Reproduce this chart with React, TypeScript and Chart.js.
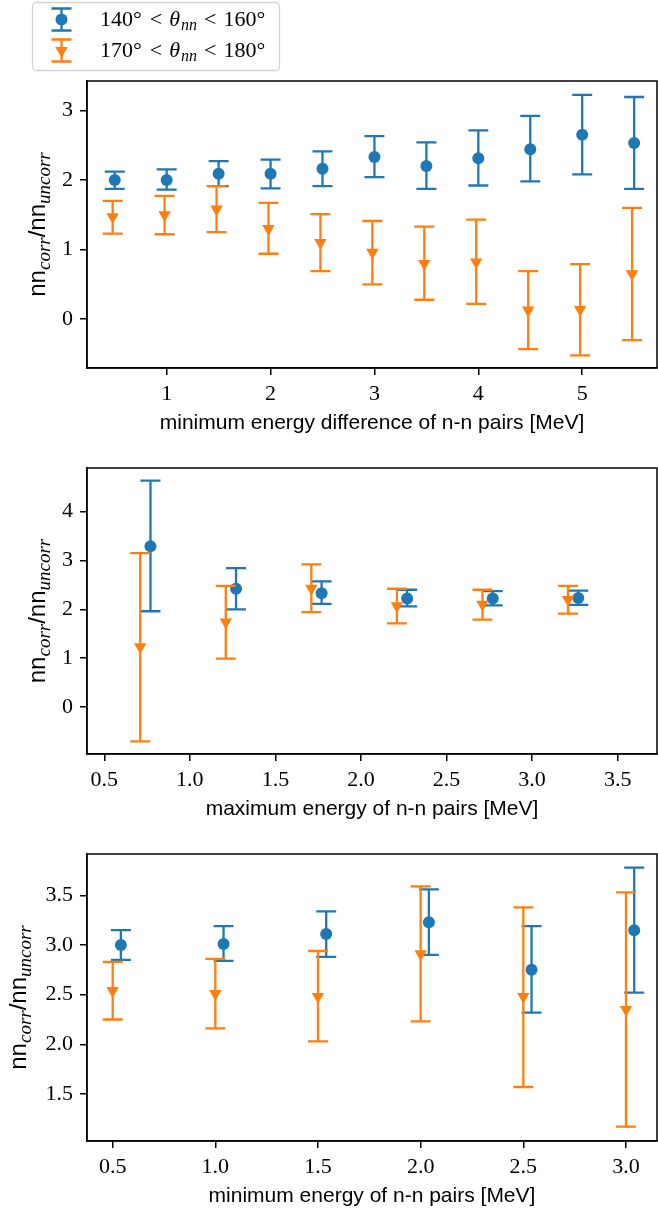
import React, { useEffect, useRef } from "react";
import { Chart, registerables } from "chart.js";

Chart.register(...registerables);

const BLUE = "#1f77b4";
const ORANGE = "#ff7f0e";
const SERIF = '"Liberation Serif", "DejaVu Serif", serif';
const SANS = '"Liberation Sans", "DejaVu Sans", sans-serif';

// ---------- legend ----------
const legendRanges = [
  ["140°", "160°"],
  ["170°", "180°"],
];
const seriesNames = ["140° < θnn < 160°", "170° < θnn < 180°"];

// ---------- y axis title pieces ----------
const yTitleParts = ["nn", "corr", "/nn", "uncorr"];

// ---------- panel 1: minimum energy difference ----------
const p1XTitle = "minimum energy difference of n-n pairs [MeV]";
const p1XRange = [0.233, 5.72];
const p1YRange = [-0.7, 3.42];
const p1XTicks = [1, 2, 3, 4, 5];
const p1YTicks = [0, 1, 2, 3];
const p1BlueX = [0.5, 1, 1.5, 2, 2.5, 3, 3.5, 4, 4.5, 5, 5.5];
const p1BlueY = [2.0, 2.0, 2.09, 2.09, 2.16, 2.33, 2.2, 2.31, 2.44, 2.65, 2.53];
const p1BlueLow = [1.87, 1.86, 1.91, 1.88, 1.91, 2.04, 1.87, 1.92, 1.98, 2.08, 1.87];
const p1BlueHigh = [2.12, 2.15, 2.27, 2.29, 2.41, 2.63, 2.54, 2.71, 2.92, 3.22, 3.19];
const p1OrangeX = [0.48, 0.98, 1.48, 1.98, 2.48, 2.98, 3.48, 3.98, 4.48, 4.98, 5.48];
const p1OrangeY = [1.47, 1.5, 1.58, 1.3, 1.1, 0.96, 0.8, 0.82, 0.13, 0.14, 0.65];
const p1OrangeLow = [1.23, 1.22, 1.25, 0.94, 0.69, 0.5, 0.28, 0.22, -0.43, -0.52, -0.3];
const p1OrangeHigh = [1.7, 1.77, 1.91, 1.67, 1.51, 1.41, 1.33, 1.43, 0.69, 0.79, 1.6];

// ---------- panel 2: maximum energy ----------
const p2XTitle = "maximum energy of n-n pairs [MeV]";
const p2XRange = [0.399, 3.73];
const p2YRange = [-0.96, 4.89];
const p2XTicks = [0.5, 1.0, 1.5, 2.0, 2.5, 3.0, 3.5];
const p2YTicks = [0, 1, 2, 3, 4];
const p2BlueX = [0.77, 1.27, 1.77, 2.27, 2.77, 3.27];
const p2BlueY = [3.29, 2.42, 2.33, 2.22, 2.22, 2.23];
const p2BlueLow = [1.96, 2.0, 2.11, 2.06, 2.08, 2.09];
const p2BlueHigh = [4.63, 2.84, 2.57, 2.4, 2.37, 2.38];
const p2OrangeX = [0.71, 1.21, 1.71, 2.21, 2.71, 3.21];
const p2OrangeY = [1.23, 1.74, 2.43, 2.07, 2.1, 2.2];
const p2OrangeLow = [-0.7, 0.99, 1.94, 1.71, 1.79, 1.91];
const p2OrangeHigh = [3.15, 2.48, 2.92, 2.42, 2.4, 2.48];

// ---------- panel 3: minimum energy ----------
const p3XTitle = "minimum energy of n-n pairs [MeV]";
const p3XRange = [0.375, 3.151];
const p3YRange = [1.026, 3.917];
const p3XTicks = [0.5, 1.0, 1.5, 2.0, 2.5, 3.0];
const p3YTicks = [1.5, 2.0, 2.5, 3.0, 3.5];
const p3BlueX = [0.54, 1.04, 1.54, 2.04, 2.54, 3.04];
const p3BlueY = [3.0, 3.01, 3.11, 3.23, 2.75, 3.15];
const p3BlueLow = [2.85, 2.84, 2.88, 2.9, 2.32, 2.52];
const p3BlueHigh = [3.15, 3.19, 3.34, 3.56, 3.19, 3.78];
const p3OrangeX = [0.5, 1.0, 1.5, 2.0, 2.5, 3.0];
const p3OrangeY = [2.54, 2.51, 2.48, 2.91, 2.48, 2.35];
const p3OrangeLow = [2.25, 2.16, 2.03, 2.23, 1.57, 1.17];
const p3OrangeHigh = [2.83, 2.86, 2.94, 3.59, 3.38, 3.53];

// ---------- drawing helpers ----------
type Seg = { t: string; font: string; dy?: number; gap?: number };

function richWidth(ctx: CanvasRenderingContext2D, segs: Seg[]) {
  let w = 0;
  for (const s of segs) {
    ctx.font = s.font;
    w += (s.gap || 0) + ctx.measureText(s.t).width;
  }
  return w;
}

function drawRich(ctx: CanvasRenderingContext2D, segs: Seg[], x: number, y: number) {
  let cx = x;
  for (const s of segs) {
    cx += s.gap || 0;
    ctx.font = s.font;
    ctx.fillText(s.t, cx, y + (s.dy || 0));
    cx += ctx.measureText(s.t).width;
  }
}

function drawMarker(ctx: CanvasRenderingContext2D, style: string, x: number, y: number, r: number) {
  ctx.beginPath();
  if (style === "circle") {
    ctx.arc(x, y, r, 0, Math.PI * 2);
  } else {
    const s = Math.sin(Math.PI / 3) * r;
    ctx.moveTo(x, y + r);
    ctx.lineTo(x - s, y - r / 2);
    ctx.lineTo(x + s, y - r / 2);
    ctx.closePath();
  }
  ctx.fill();
}

const CAP = 10;
const ERR_W = 2.3;
const BLUE_R = 6;
const ORANGE_R = 7.2;

const errorBarPlugin = {
  id: "errorBars",
  beforeDatasetDraw(chart: any, args: any) {
    const ds: any = chart.data.datasets[args.index];
    if (!ds.errLow) return;
    const yScale = chart.scales.y;
    const ctx: CanvasRenderingContext2D = chart.ctx;
    ctx.save();
    ctx.strokeStyle = ds.borderColor;
    ctx.lineWidth = ERR_W;
    ctx.beginPath();
    args.meta.data.forEach((pt: any, i: number) => {
      const x = pt.x;
      const yl = yScale.getPixelForValue(ds.errLow[i]);
      const yh = yScale.getPixelForValue(ds.errHigh[i]);
      ctx.moveTo(x, yl);
      ctx.lineTo(x, yh);
      ctx.moveTo(x - CAP, yl);
      ctx.lineTo(x + CAP, yl);
      ctx.moveTo(x - CAP, yh);
      ctx.lineTo(x + CAP, yh);
    });
    ctx.stroke();
    ctx.restore();
  },
};

const decorPlugin = {
  id: "panelDecor",
  afterDraw(chart: any, _args: any, opts: any) {
    const ctx: CanvasRenderingContext2D = chart.ctx;
    const a = chart.chartArea;
    ctx.save();
    // frame (all four spines)
    ctx.strokeStyle = "#000";
    ctx.lineWidth = 1.5;
    ctx.strokeRect(a.left, a.top, a.right - a.left, a.bottom - a.top);

    // x title
    ctx.fillStyle = "#000";
    ctx.font = `21px ${SANS}`;
    ctx.textAlign = "center";
    ctx.textBaseline = "alphabetic";
    ctx.fillText(opts.xTitle, (a.left + a.right) / 2, a.bottom + 61);

    // y title (rotated rich text)
    ctx.textAlign = "left";
    const segs: Seg[] = [
      { t: yTitleParts[0], font: `24px ${SANS}` },
      { t: yTitleParts[1], font: `italic 19px ${SERIF}`, dy: 5 },
      { t: yTitleParts[2], font: `24px ${SANS}` },
      { t: yTitleParts[3], font: `italic 19px ${SERIF}`, dy: 5 },
    ];
    const w = richWidth(ctx, segs);
    ctx.save();
    ctx.translate(opts.yTitleX, (a.top + a.bottom) / 2);
    ctx.rotate(-Math.PI / 2);
    drawRich(ctx, segs, -w / 2, 0);
    ctx.restore();

    // legend
    if (opts.legend) {
      ctx.beginPath();
      ctx.roundRect(32.5, 2.5, 247, 68, 4);
      ctx.fillStyle = "#fff";
      ctx.fill();
      ctx.strokeStyle = "#d4d4d4";
      ctx.lineWidth = 1.3;
      ctx.stroke();
      const rowsY = [19.5, 50.5];
      const colors = [BLUE, ORANGE];
      const markers = ["circle", "triangle"];
      legendRanges.forEach((rng, i) => {
        const y = rowsY[i];
        const x = 61.5;
        ctx.strokeStyle = colors[i];
        ctx.fillStyle = colors[i];
        ctx.lineWidth = ERR_W;
        ctx.beginPath();
        ctx.moveTo(x, y - 11);
        ctx.lineTo(x, y + 11);
        ctx.moveTo(x - CAP, y - 11);
        ctx.lineTo(x + CAP, y - 11);
        ctx.moveTo(x - CAP, y + 11);
        ctx.lineTo(x + CAP, y + 11);
        ctx.stroke();
        drawMarker(ctx, markers[i], x, y, i === 0 ? BLUE_R : ORANGE_R);
        ctx.fillStyle = "#000";
        const f = `22px ${SERIF}`;
        const fi = `italic 22px ${SERIF}`;
        const fs = `italic 16px ${SERIF}`;
        drawRich(
          ctx,
          [
            { t: rng[0], font: f },
            { t: "<", font: f, gap: 8 },
            { t: "θ", font: fi, gap: 7 },
            { t: "nn", font: fs, dy: 4, gap: 1 },
            { t: "<", font: f, gap: 7 },
            { t: rng[1], font: f, gap: 7 },
          ],
          100,
          y + 6
        );
      });
    }
    ctx.restore();
  },
};

type Spec = {
  xRange: number[];
  yRange: number[];
  xTicks: number[];
  yTicks: number[];
  xFmt: (v: number) => string;
  yFmt: (v: number) => string;
  blueX: number[];
  blueY: number[];
  blueLow: number[];
  blueHigh: number[];
  orangeX: number[];
  orangeY: number[];
  orangeLow: number[];
  orangeHigh: number[];
  xTitle: string;
  padTop: number;
  xAxisH: number;
  yTitleX: number;
  legend: boolean;
};

const intFmt = (v: number) => String(v);
const oneFmt = (v: number) => v.toFixed(1);

function axis(range: number[], ticks: number[], fmt: (v: number) => string, horizontal: boolean, size: number) {
  return {
    type: "linear",
    min: range[0],
    max: range[1],
    afterBuildTicks: (s: any) => {
      s.ticks = ticks.map((v) => ({ value: v }));
    },
    afterFit: (s: any) => {
      if (horizontal) {
        s.height = size;
        s.paddingLeft = 0;
        s.paddingRight = 0;
      } else {
        s.width = size;
        s.paddingTop = 0;
        s.paddingBottom = 0;
      }
    },
    ticks: {
      callback: (v: number) => fmt(v),
      color: "#000",
      font: { family: SERIF, size: 22 },
      autoSkip: false,
      maxRotation: 0,
      minRotation: 0,
      padding: horizontal ? 6 : 7,
    },
    grid: {
      drawOnChartArea: false,
      drawTicks: true,
      tickLength: 7,
      tickWidth: 1.5,
      tickColor: "#000",
      color: "#000",
      lineWidth: 1.5,
    },
    border: { display: true, color: "#000", width: 1.5 },
  };
}

function buildConfig(sp: Spec): any {
  return {
    type: "scatter",
    data: {
      datasets: [
        {
          label: seriesNames[0],
          data: sp.blueX.map((x, i) => ({ x, y: sp.blueY[i] })),
          errLow: sp.blueLow,
          errHigh: sp.blueHigh,
          borderColor: BLUE,
          backgroundColor: BLUE,
          pointBackgroundColor: BLUE,
          pointBorderWidth: 0,
          pointStyle: "circle",
          pointRadius: BLUE_R,
          order: 1,
        },
        {
          label: seriesNames[1],
          data: sp.orangeX.map((x, i) => ({ x, y: sp.orangeY[i] })),
          errLow: sp.orangeLow,
          errHigh: sp.orangeHigh,
          borderColor: ORANGE,
          backgroundColor: ORANGE,
          pointBackgroundColor: ORANGE,
          pointBorderWidth: 0,
          pointStyle: "triangle",
          pointRotation: 180,
          pointRadius: ORANGE_R,
          order: 0,
        },
      ],
    },
    options: {
      animation: false,
      responsive: false,
      events: [],
      layout: { autoPadding: false, padding: { top: sp.padTop, right: 1, left: 0, bottom: 0 } },
      plugins: {
        legend: { display: false },
        tooltip: { enabled: false },
        panelDecor: { xTitle: sp.xTitle, yTitleX: sp.yTitleX, legend: sp.legend },
      },
      scales: {
        x: axis(sp.xRange, sp.xTicks, sp.xFmt, true, sp.xAxisH),
        y: axis(sp.yRange, sp.yTicks, sp.yFmt, false, 87),
      },
    },
    plugins: [errorBarPlugin, decorPlugin],
  };
}

function Panel({ top, height, spec }: { top: number; height: number; spec: Spec }) {
  const ref = useRef<HTMLCanvasElement>(null);
  useEffect(() => {
    const chart = new Chart(ref.current as HTMLCanvasElement, buildConfig(spec));
    return () => chart.destroy();
  }, []);
  return (
    <canvas
      ref={ref}
      width={658}
      height={height}
      style={{ position: "absolute", left: 0, top, width: 658, height, display: "block" }}
    />
  );
}

const spec1: Spec = {
  xRange: p1XRange, yRange: p1YRange, xTicks: p1XTicks, yTicks: p1YTicks,
  xFmt: intFmt, yFmt: intFmt,
  blueX: p1BlueX, blueY: p1BlueY, blueLow: p1BlueLow, blueHigh: p1BlueHigh,
  orangeX: p1OrangeX, orangeY: p1OrangeY, orangeLow: p1OrangeLow, orangeHigh: p1OrangeHigh,
  xTitle: p1XTitle, padTop: 81, xAxisH: 72, yTitleX: 45, legend: true,
};
const spec2: Spec = {
  xRange: p2XRange, yRange: p2YRange, xTicks: p2XTicks, yTicks: p2YTicks,
  xFmt: oneFmt, yFmt: intFmt,
  blueX: p2BlueX, blueY: p2BlueY, blueLow: p2BlueLow, blueHigh: p2BlueHigh,
  orangeX: p2OrangeX, orangeY: p2OrangeY, orangeLow: p2OrangeLow, orangeHigh: p2OrangeHigh,
  xTitle: p2XTitle, padTop: 28, xAxisH: 86, yTitleX: 45, legend: false,
};
const spec3: Spec = {
  xRange: p3XRange, yRange: p3YRange, xTicks: p3XTicks, yTicks: p3YTicks,
  xFmt: oneFmt, yFmt: oneFmt,
  blueX: p3BlueX, blueY: p3BlueY, blueLow: p3BlueLow, blueHigh: p3BlueHigh,
  orangeX: p3OrangeX, orangeY: p3OrangeY, orangeLow: p3OrangeLow, orangeHigh: p3OrangeHigh,
  xTitle: p3XTitle, padTop: 14, xAxisH: 69, yTitleX: 26, legend: false,
};

export default function App() {
  return (
    <div style={{ position: "absolute", left: 0, top: 0, width: 658, height: 1210, background: "#fff" }}>
      <Panel top={0} height={440} spec={spec1} />
      <Panel top={440} height={400} spec={spec2} />
      <Panel top={840} height={370} spec={spec3} />
    </div>
  );
}
